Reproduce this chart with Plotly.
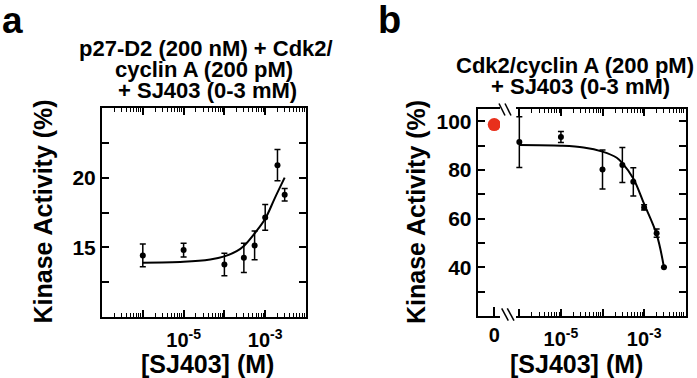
import plotly.graph_objects as go

W, H = 697, 378
FONT = "Liberation Sans"

# ---------------- data ----------------
# panel a
a_conc = [1e-6, 1e-5, 1e-4, 3e-4, 5.5e-4, 1e-3, 2e-3, 3e-3]
a_act = [14.42, 14.8, 13.77, 14.25, 15.14, 17.15, 20.9, 18.77]
a_err = [0.82, 0.5, 0.81, 1.05, 1.03, 0.92, 1.12, 0.45]
a_fit_x = [1e-6, 1e-5, 4.5e-5, 1e-4, 2e-4, 3e-4, 5.5e-4, 1e-3, 1.7e-3, 3e-3]
a_fit_y = [13.9, 13.96, 14.13, 14.35, 14.73, 15.1, 16.0, 17.05, 18.5, 20.0]

# panel b
b_conc = [1e-6, 1e-5, 1e-4, 3e-4, 5.5e-4, 1e-3, 2e-3, 3e-3]
b_act = [91.4, 93.5, 80.2, 82.0, 75.1, 64.6, 54.0, 40.0]
b_err = [10.4, 2.3, 8.0, 7.2, 5.8, 1.1, 1.7, 0.0]
b_fit_x = [1e-6, 1e-5, 3.5e-5, 1e-4, 2.2e-4, 3e-4, 5.5e-4, 1e-3, 2e-3, 3e-3]
b_fit_y = [90.2, 89.9, 89.2, 87.5, 85.0, 82.8, 76.5, 66.0, 53.5, 40.0]
b_zero_x = [0]
b_zero_y = [98.6]

# ticks
a_xticks = [1e-7, 1e-6, 1e-5, 1e-4, 1e-3, 1e-2]
a_xlabel_vals = [1e-5, 1e-3]
a_xlabel_text = ["10<sup>-5</sup>", "10<sup>-3</sup>"]
a_ylabel_vals = [15, 20]
a_ylabel_text = ["15", "20"]
a_yminor = [12.5, 17.5, 22.5]
b_xticks = [1e-6, 1e-5, 1e-4, 1e-3, 1e-2]
b_xlabel_vals = [1e-5, 1e-3]
b_xlabel_text = ["10<sup>-5</sup>", "10<sup>-3</sup>"]
b_ylabel_vals = [40, 60, 80, 100]
b_ylabel_text = ["40", "60", "80", "100"]
b_yminor = [30, 50, 70, 90]
b_yticks = [30, 40, 50, 60, 70, 80, 90, 100]


def px_x(p):
    return p / W


def px_y(p):
    return 1 - p / H


def minor_vals(k0, k1):
    out = []
    for k in range(k0, k1):
        for m in range(2, 10):
            out.append(m * 10.0 ** k)
    return out


fig = go.Figure()

# panel a traces
fig.add_trace(go.Scatter(x=a_fit_x, y=a_fit_y, mode="lines", line=dict(color="black", width=2, shape="spline"),
                         xaxis="x", yaxis="y", hoverinfo="skip"))
fig.add_trace(go.Scatter(x=a_conc, y=a_act, mode="markers",
                         marker=dict(color="black", size=6),
                         error_y=dict(type="data", array=a_err, color="black", thickness=1.5, width=3),
                         xaxis="x", yaxis="y"))
# empty carrier so the overlaying label axis is drawn
fig.add_trace(go.Scatter(x=a_conc, y=a_act, mode="none", xaxis="x4", yaxis="y", hoverinfo="skip"))

# panel b traces
fig.add_trace(go.Scatter(x=b_zero_x, y=b_zero_y, mode="markers",
                         marker=dict(color="#e8301c", size=13),
                         xaxis="x2", yaxis="y2"))
fig.add_trace(go.Scatter(x=b_fit_x, y=b_fit_y, mode="lines", line=dict(color="black", width=2, shape="spline"),
                         xaxis="x3", yaxis="y3", hoverinfo="skip"))
fig.add_trace(go.Scatter(x=b_conc, y=b_act, mode="markers",
                         marker=dict(color="black", size=6),
                         error_y=dict(type="data", array=b_err, color="black", thickness=1.5, width=3),
                         xaxis="x3", yaxis="y3"))
fig.add_trace(go.Scatter(x=b_conc, y=b_act, mode="none", xaxis="x5", yaxis="y3", hoverinfo="skip"))

tf_x = dict(family=FONT, size=20, color="black", weight="bold")
tf_y = dict(family=FONT, size=21, color="black", weight="bold")
axis_common = dict(showline=True, linecolor="black", linewidth=2, ticks="inside", ticklen=7,
                   tickwidth=1.5, tickcolor="black", showgrid=False, zeroline=False, tickfont=tf_x)
minor_log = dict(ticks="inside", ticklen=4, tickwidth=1, tickcolor="black", showgrid=False)
minor_lin = dict(ticks="inside", ticklen=7, tickwidth=1.5, tickcolor="black", showgrid=False)
label_axis = dict(showline=False, ticks="", showgrid=False, zeroline=False, tickfont=tf_x)

a_xdom = [px_x(102), px_x(306)]
b_xdom = [px_x(516), px_x(685.7)]
a_ydom = [px_y(317), px_y(108)]
b_ydom = [px_y(316), px_y(109)]

fig.update_layout(
    width=W, height=H, margin=dict(l=0, r=0, t=0, b=0),
    paper_bgcolor="white", plot_bgcolor="white", showlegend=False,
    # panel a: frame, decade ticks, minor ticks
    xaxis=dict(axis_common, domain=a_xdom, type="log", range=[-7, -2], anchor="y",
               mirror="allticks", tickmode="array", tickvals=a_xticks, showticklabels=False,
               minor=dict(minor_log, tickmode="array", tickvals=minor_vals(-7, -2))),
    # panel a: decade labels
    xaxis4=dict(label_axis, domain=a_xdom, type="log", range=[-7, -2], anchor="y", overlaying="x",
                tickmode="array", tickvals=a_xlabel_vals, ticktext=a_xlabel_text, ticklabelstandoff=9),
    yaxis=dict(axis_common, domain=a_ydom, range=[10, 25], anchor="x",
               mirror="allticks", tickmode="array", tickvals=a_ylabel_vals, ticktext=a_ylabel_text,
               tickfont=tf_y, minor=dict(minor_lin, tickmode="array", tickvals=a_yminor)),
    # panel b, zero segment
    xaxis2=dict(axis_common, domain=[px_x(477.7), px_x(500)], range=[-1, 0.35], anchor="y2",
                mirror=True, tickmode="array", tickvals=b_zero_x, ticktext=["0"], ticklen=9),
    yaxis2=dict(axis_common, domain=b_ydom, range=[20, 105], anchor="x2", side="left",
                tickmode="array", tickvals=b_ylabel_vals, ticktext=b_ylabel_text, tickfont=tf_y,
                minor=dict(minor_lin, tickmode="array", tickvals=b_yminor)),
    # panel b, log segment
    xaxis3=dict(axis_common, domain=b_xdom, type="log", range=[-6.08, -2], anchor="y3",
                mirror="allticks", tickmode="array", tickvals=b_xticks, showticklabels=False,
                minor=dict(minor_log, tickmode="array", tickvals=minor_vals(-6, -2))),
    xaxis5=dict(label_axis, domain=b_xdom, type="log", range=[-6.08, -2], anchor="y3", overlaying="x3",
                tickmode="array", tickvals=b_xlabel_vals, ticktext=b_xlabel_text, ticklabelstandoff=9),
    yaxis3=dict(axis_common, domain=b_ydom, range=[20, 105], anchor="x3", side="right",
                tickmode="array", tickvals=b_yticks, showticklabels=False),
)

# axis break marks (panel b)
for (x0, y0, x1, y1) in [(501.7, 308.3, 508.3, 320.7), (507.3, 308.3, 514, 320.7),
                         (499, 103.5, 505, 115.5), (505, 103.5, 511, 115.5)]:
    fig.add_shape(type="line", xref="paper", yref="paper", x0=px_x(x0), y0=px_y(y0), x1=px_x(x1), y1=px_y(y1),
                  line=dict(color="black", width=1.5))


def ann(text, x, y, size, angle=0):
    fig.add_annotation(text=text, x=px_x(x), y=px_y(y), xref="paper", yref="paper", showarrow=False,
                       xanchor="center", yanchor="middle", textangle=angle,
                       font=dict(family=FONT, size=size, color="black", weight="bold"))


# titles
ann("p27-D2 (200 nM) + Cdk2/", 206, 48, 22)
ann("cyclin A (200 pM)", 204, 69, 22)
ann("+ SJ403 (0-3 mM)", 207, 90, 22)
ann("Cdk2/cyclin A (200 pM)", 575, 65, 22)
ann("+ SJ403 (0-3 mM)", 580.7, 87, 22)

# axis titles
ann("[SJ403] (M)", 207.5, 364, 25)
ann("[SJ403] (M)", 576.7, 364, 25)
ann("Kinase Activity (%)", 42.5, 212, 25, -90)
ann("Kinase Activity (%)", 416, 212, 25, -90)

# panel letters
ann("a", 12.5, 20, 37)
ann("b", 389.5, 20, 38)

fig.write_html("out.html", post_script="document.body.style.margin='0';",
               config={"displayModeBar": False})
